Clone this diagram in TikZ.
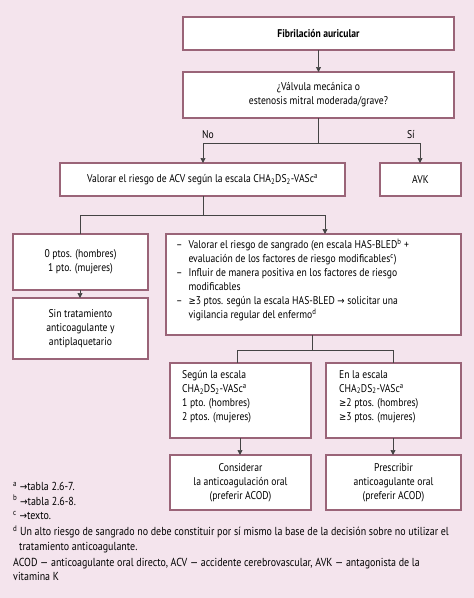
\documentclass[tikz,border=0pt]{standalone}
\usepackage{fontspec}
\setmainfont{PT Sans}[FakeStretch=0.86]
\newfontfamily\symfont{DejaVu Sans}[FakeStretch=0.86,Scale=0.9]
\usetikzlibrary{arrows.meta}
\definecolor{bgpink}{HTML}{F4E4ED}
\definecolor{boxline}{HTML}{9A6478}
\definecolor{conn}{HTML}{444444}
\tikzset{
  box/.style={draw=boxline, line width=1.1pt, fill=white, inner sep=0pt},
  txt/.style={font=\fontsize{11.2}{14}\selectfont, align=center, inner sep=0pt},
  ltxt/.style={font=\fontsize{11.2}{14}\selectfont, align=left, inner sep=0pt, anchor=north west},
  ftxt/.style={font=\fontsize{11.6}{14.5}\selectfont, align=left, inner sep=0pt, anchor=north west},
  conline/.style={draw=conn, line width=0.7pt},
  arr/.style={conline, -{Triangle[length=5pt,width=5pt]}},
}
\newcommand{\chads}{CHA\textsubscript{2}DS\textsubscript{2}-VASc\textsuperscript{a}}
\newcommand{\rarr}{{\symfont →}}
\newcommand{\geqs}{{\symfont ≥}}
\begin{document}
\begin{tikzpicture}[x=1pt,y=-1pt]
\fill[bgpink] (0,0) rectangle (474,598);
\useasboundingbox (0,0) rectangle (474,598);
% boxes
\draw[box] (183,17) rectangle (454,50);
\node[txt,font=\fontsize{11.2}{14}\selectfont\bfseries] (n1) at (318.5,33.5) {Fibrilación auricular};
\draw[box] (183,72) rectangle (454,118);
\node[txt] (n2) at (318.5,95) {¿Válvula mecánica o\\estenosis mitral moderada/grave?};
\draw[box] (60,163) rectangle (345,196);
\node[txt] (n3) at (202.5,179.5) {Valorar el riesgo de ACV según la escala \chads};
\draw[box] (380,163) rectangle (461,196);
\node[txt] (n4) at (420.5,179.5) {AVK};
\draw[box] (13,234) rectangle (148,290);
\node[txt] (n5) at (80.5,262) {0 ptos. (hombres)\\1 pto. (mujeres)};
\draw[box] (13,298) rectangle (148,359);
\node[txt] (n6) at (80.5,328.5) {Sin tratamiento\\anticoagulante y\\antiplaquetario};
\draw[box] (166,234) rectangle (461,335);
\node[ltxt] (n7) at (176,238) {%
\begin{tabular}{@{}l@{\hspace{6pt}}l@{}}
--& Valorar el riesgo de sangrado (en escala HAS-BLED\textsuperscript{b} +\\
  & evaluación de los factores de riesgo modificables\textsuperscript{c})\\
--& Influir de manera positiva en los factores de riesgo\\
  & modificables\\
--& \geqs3 ptos. según la escala HAS-BLED \rarr\ solicitar una\\
  & vigilancia regular del enfermo\textsuperscript{d}
\end{tabular}};
\draw[box] (170,363) rectangle (311,438);
\node[ltxt] (n8) at (182,370) {Según la escala\\\chads\\1 pto. (hombres)\\2 ptos. (mujeres)};
\draw[box] (326,363) rectangle (461,438);
\node[ltxt] (n9) at (339,370) {En la escala\\\chads\\\geqs2 ptos. (hombres)\\\geqs3 ptos. (mujeres)};
\draw[box] (170,455) rectangle (311,510);
\node[txt] (n10) at (240.5,482.5) {Considerar\\la anticoagulación oral\\(preferir ACOD)};
\draw[box] (326,455) rectangle (461,510);
\node[txt] (n11) at (393.5,482.5) {Prescribir\\anticoagulante oral\\(preferir ACOD)};
% connectors
\draw[arr] (318.5,50) -- (318.5,72);
\draw[conline] (318.5,118) -- (318.5,143);
\draw[arr] (203,143) -- (203,163);
\draw[arr] (420,143) -- (420,163);
\draw[conline] (203,143) -- (420,143);
\node[txt,anchor=south west] (no) at (202,139) {No};
\node[txt,anchor=south east] (si) at (415,139) {Sí};
\draw[conline] (203,196) -- (203,215);
\draw[conline] (80,215) -- (325,215);
\draw[conline] (80,215) -- (80,234);
\draw[arr] (325,215) -- (325,234);
\draw[arr] (80,290) -- (80,298);
\draw[conline] (312,335) -- (312,350);
\draw[conline] (237,350) -- (393,350);
\draw[conline] (237,350) -- (237,363);
\draw[conline] (393,350) -- (393,363);
\draw[arr] (240,438) -- (240,455);
\draw[arr] (393,438) -- (393,455);
% footnotes
\node[ftxt] (f) at (13,482) {%
\textsuperscript{a} \rarr tabla 2.6-7.\\
\textsuperscript{b} \rarr tabla 2.6-8.\\
\textsuperscript{c} \rarr texto.};
\node[ftxt] (fd) at (13,525.5) {%
\textsuperscript{d} Un alto riesgo de sangrado no debe constituir por sí mismo la base de la decisión sobre no utilizar el\\
\hspace{6pt}tratamiento anticoagulante.};
\node[ftxt] (fa) at (13,558) {%
ACOD — anticoagulante oral directo, ACV — accidente cerebrovascular, AVK — antagonista de la\\
vitamina K};
\end{tikzpicture}
\end{document}
